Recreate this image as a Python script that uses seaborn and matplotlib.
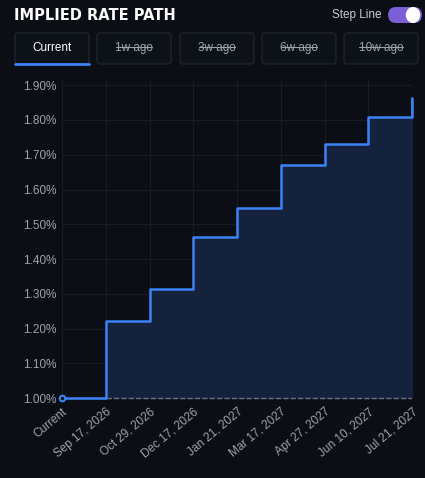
import numpy as np
import pandas as pd
import matplotlib
matplotlib.use("Agg")
import matplotlib.pyplot as plt
import seaborn as sns
from matplotlib.patches import FancyBboxPatch

dates = ["Current", "Sep 17, 2026", "Oct 29, 2026", "Dec 17, 2026", "Jan 21, 2027",
         "Mar 17, 2027", "Apr 27, 2027", "Jun 10, 2027", "Jul 21, 2027"]
rates = [1.00, 1.221, 1.315, 1.464, 1.548, 1.672, 1.730, 1.808, 1.862]
tabs = ["Current", "1w ago", "3w ago", "6w ago", "10w ago"]
yticks = [1.0, 1.1, 1.2, 1.3, 1.4, 1.5, 1.6, 1.7, 1.8, 1.9]

bg = "#0b0e14"
sns.set_theme(style="dark")
plt.rcParams['font.family'] = ['Liberation Sans', 'DejaVu Sans']

df = pd.DataFrame({"x": np.arange(len(dates)), "rate": rates})

fig = plt.figure(figsize=(4.25, 4.78), dpi=100, facecolor=bg)
ax = fig.add_axes([62/425, 78/478, 350/425, 320/478], facecolor=bg)

ax.fill_between(df["x"], df["rate"], 1.0, step="post", color="#15223d", zorder=1)
sns.lineplot(data=df, x="x", y="rate", ax=ax, drawstyle="steps-post",
             color="#3b82f6", lw=1.8, zorder=3)
ax.plot([df["x"].iloc[-1]] * 2, [rates[-2], rates[-1]], color="#3b82f6", lw=1.8,
        zorder=3, clip_on=False)
ax.plot(df["x"].iloc[0], rates[0], "o", ms=4, mfc=bg, mec="#3b82f6", mew=1.5,
        zorder=4, clip_on=False)
ax.axhline(1.0, color="#6b7280", ls="--", lw=1, zorder=2)

ax.set_xlim(0, len(dates) - 1)
ax.set_ylim(0.995, 1.915)
ax.set_yticks(yticks)
ax.set_yticklabels([f"{v:.2f}%" for v in yticks])
ax.set_xticks(df["x"])
ax.set_xticklabels(dates, rotation=40, ha="right", rotation_mode="anchor")
ax.tick_params(colors="#9ca3af", labelsize=8.5, length=0, pad=4)
ax.grid(True, color="#171c26", lw=0.8)
ax.set_xlabel("")
ax.set_ylabel("")
for s in ax.spines.values():
    s.set_visible(False)

fig.text(14/425, 1 - 15/478, "IMPLIED RATE PATH", color="white", fontsize=10.5,
         fontweight="heavy", va="center", family=["DejaVu Sans"])
fig.text(381/425, 1 - 15/478, "Step Line", color="#c9ced6", fontsize=8.5, va="center", ha="right")
fig.patches.append(FancyBboxPatch((388/425, 1 - 23/478), 34/425, 16/478,
                                  boxstyle="round,pad=0,rounding_size=0.018",
                                  transform=fig.transFigure, fc="#7c5fd6", ec="none"))
fig.patches.append(plt.Circle((413/425, 1 - 15/478), 6.5/425, transform=fig.transFigure,
                              color="white"))
tab_x = [15, 97, 180, 262, 344]
strike = [0, 18, 18, 18, 22]
for i, (t, x0) in enumerate(zip(tabs, tab_x)):
    fig.patches.append(FancyBboxPatch((x0/425, 1 - 64/478), 74/425, 31/478,
                                      boxstyle="round,pad=0,rounding_size=0.006",
                                      transform=fig.transFigure, fc="#0d1118",
                                      ec="#232833", lw=0.8))
    fig.text((x0 + 37)/425, 1 - 48/478, t, ha="center", va="center", fontsize=8.5,
             color="white" if i == 0 else "#9ca3af")
    if i > 0:
        w = strike[i]
        fig.lines.append(plt.Line2D([(x0 + 37 - w)/425, (x0 + 37 + w)/425], [1 - 47/478] * 2,
                                    transform=fig.transFigure, color="#9ca3af", lw=0.8))
fig.lines.append(plt.Line2D([15/425, 89/425], [1 - 64/478] * 2, transform=fig.transFigure,
                            color="#3b82f6", lw=2))

fig.savefig("out.png", dpi=100, facecolor=bg)
